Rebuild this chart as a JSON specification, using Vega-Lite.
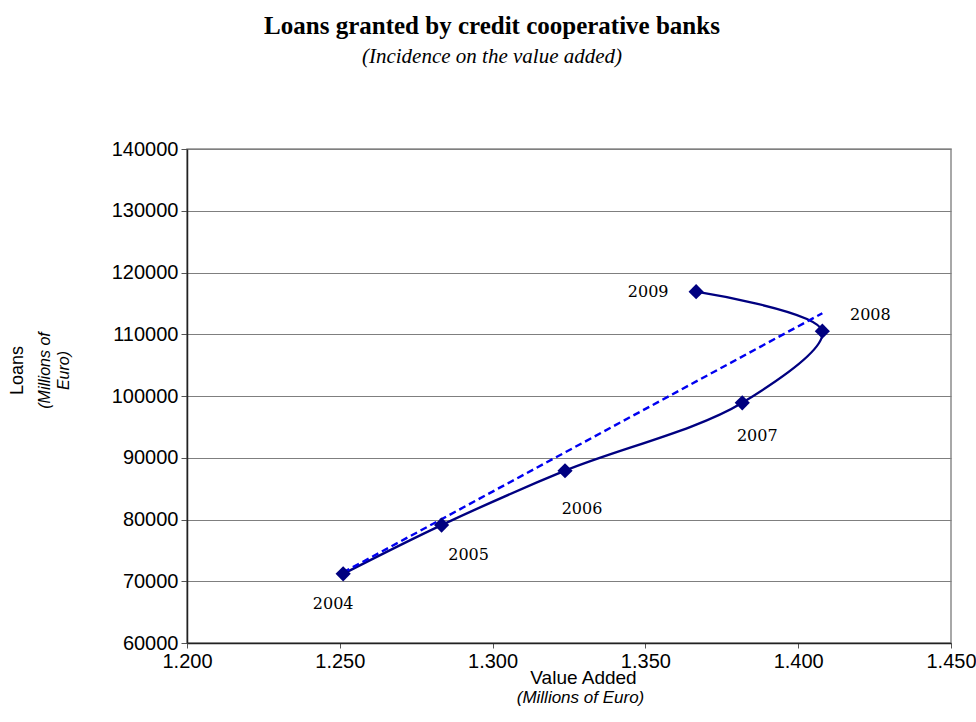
{
  "$schema": "https://vega.github.io/schema/vega-lite/v6.json",
  "width": 764,
  "height": 494,
  "autosize": "none",
  "padding": {"left": 187, "top": 149, "right": 25, "bottom": 79},
  "background": "white",
  "title": {
    "text": "Loans granted by credit cooperative banks",
    "subtitle": "(Incidence on the value added)",
    "font": "Liberation Serif",
    "fontSize": 25,
    "fontWeight": "bold",
    "color": "black",
    "subtitleFont": "Liberation Serif",
    "subtitleFontSize": 21,
    "subtitleFontStyle": "italic",
    "subtitleColor": "black",
    "subtitlePadding": 7,
    "anchor": "middle",
    "frame": "bounds",
    "offset": 72
  },
  "config": {
    "view": {"stroke": "#8c8c8c", "strokeWidth": 1.5},
    "axis": {
      "labelFont": "Liberation Sans",
      "labelFontSize": 20,
      "labelColor": "black",
      "labelFlush": false,
      "titleFont": "Liberation Sans",
      "titleColor": "black",
      "titleFontWeight": "normal",
      "domainColor": "#222",
      "domainWidth": 1.5,
      "tickColor": "#555",
      "gridColor": "#7f7f7f",
      "gridWidth": 1
    }
  },
  "data": {
    "values": [
      {"year": 2004, "va": 1.2511, "loans": 71200},
      {"year": 2005, "va": 1.2833, "loans": 79100},
      {"year": 2006, "va": 1.3237, "loans": 87900},
      {"year": 2007, "va": 1.3817, "loans": 98900},
      {"year": 2008, "va": 1.4079, "loans": 110500},
      {"year": 2009, "va": 1.3666, "loans": 116900}
    ]
  },
  "resolve": {"axis": {"x": "independent", "y": "independent"}},
  "layer": [
    {
      "mark": {"type": "line", "interpolate": "catmull-rom", "color": "#000080", "strokeWidth": 2.4},
      "encoding": {
        "x": {
          "field": "va", "type": "quantitative",
          "scale": {"domain": [1.2, 1.45], "zero": false, "nice": false},
          "axis": {
            "orient": "bottom",
            "values": [1.2, 1.25, 1.3, 1.35, 1.4, 1.45],
            "format": ".3f",
            "grid": false,
            "tickSize": 5,
            "labelPadding": 3,
            "title": "Value  Added",
            "titleFontSize": 19,
            "titleX": 396,
            "titleY": 25,
            "titleBaseline": "top"
          }
        },
        "y": {
          "field": "loans", "type": "quantitative",
          "scale": {"domain": [60000, 140000], "zero": false, "nice": false},
          "axis": {
            "orient": "left",
            "values": [60000, 70000, 80000, 90000, 100000, 110000, 120000, 130000, 140000],
            "format": "d",
            "grid": true,
            "tickSize": 6,
            "labelPadding": 3,
            "title": "Loans",
            "titleFontSize": 18,
            "titleAngle": -90,
            "titleX": -161,
            "titleY": 221,
            "titleBaseline": "bottom",
            "titleAlign": "center"
          }
        },
        "order": {"field": "year", "type": "quantitative"}
      }
    },
    {
      "transform": [{"regression": "loans", "on": "va"}],
      "mark": {"type": "line", "color": "#0000f0", "strokeWidth": 2.4, "strokeDash": [7, 4]},
      "encoding": {
        "x": {"field": "va", "type": "quantitative", "axis": null},
        "y": {"field": "loans", "type": "quantitative", "axis": null}
      }
    },
    {
      "mark": {"type": "point", "shape": "diamond", "filled": true, "color": "#000080", "opacity": 1, "size": 230},
      "encoding": {
        "x": {
          "field": "va", "type": "quantitative",
          "axis": {
            "orient": "bottom",
            "labels": false, "ticks": false, "domain": false, "grid": false,
            "title": "(Millions of Euro)",
            "titleFontSize": 17,
            "titleFontStyle": "italic",
            "titleX": 393,
            "titleY": 46,
            "titleBaseline": "top"
          }
        },
        "y": {
          "field": "loans", "type": "quantitative",
          "axis": {
            "orient": "left",
            "labels": false, "ticks": false, "domain": false, "grid": false,
            "title": ["(Millions of", "Euro)"],
            "titleFontSize": 16,
            "titleFontStyle": "italic",
            "titleAngle": -90,
            "titleX": -135,
            "titleY": 221,
            "titleBaseline": "bottom",
            "titleAlign": "center",
            "titleLineHeight": 19
          }
        }
      }
    },
    {
      "transform": [{"filter": "datum.year == 2004"}],
      "mark": {"type": "text", "font": "DejaVu Serif", "fontSize": 16, "color": "black", "dx": -10, "dy": 30},
      "encoding": {
        "x": {"field": "va", "type": "quantitative", "axis": null},
        "y": {"field": "loans", "type": "quantitative", "axis": null},
        "text": {"field": "year"}
      }
    },
    {
      "transform": [{"filter": "datum.year == 2005"}],
      "mark": {"type": "text", "font": "DejaVu Serif", "fontSize": 16, "color": "black", "dx": 27, "dy": 30},
      "encoding": {
        "x": {"field": "va", "type": "quantitative", "axis": null},
        "y": {"field": "loans", "type": "quantitative", "axis": null},
        "text": {"field": "year"}
      }
    },
    {
      "transform": [{"filter": "datum.year == 2006"}],
      "mark": {"type": "text", "font": "DejaVu Serif", "fontSize": 16, "color": "black", "dx": 17, "dy": 38},
      "encoding": {
        "x": {"field": "va", "type": "quantitative", "axis": null},
        "y": {"field": "loans", "type": "quantitative", "axis": null},
        "text": {"field": "year"}
      }
    },
    {
      "transform": [{"filter": "datum.year == 2007"}],
      "mark": {"type": "text", "font": "DejaVu Serif", "fontSize": 16, "color": "black", "dx": 15, "dy": 33},
      "encoding": {
        "x": {"field": "va", "type": "quantitative", "axis": null},
        "y": {"field": "loans", "type": "quantitative", "axis": null},
        "text": {"field": "year"}
      }
    },
    {
      "transform": [{"filter": "datum.year == 2008"}],
      "mark": {"type": "text", "font": "DejaVu Serif", "fontSize": 16, "color": "black", "dx": 48, "dy": -16},
      "encoding": {
        "x": {"field": "va", "type": "quantitative", "axis": null},
        "y": {"field": "loans", "type": "quantitative", "axis": null},
        "text": {"field": "year"}
      }
    },
    {
      "transform": [{"filter": "datum.year == 2009"}],
      "mark": {"type": "text", "font": "DejaVu Serif", "fontSize": 16, "color": "black", "dx": -48, "dy": 0},
      "encoding": {
        "x": {"field": "va", "type": "quantitative", "axis": null},
        "y": {"field": "loans", "type": "quantitative", "axis": null},
        "text": {"field": "year"}
      }
    }
  ]
}
